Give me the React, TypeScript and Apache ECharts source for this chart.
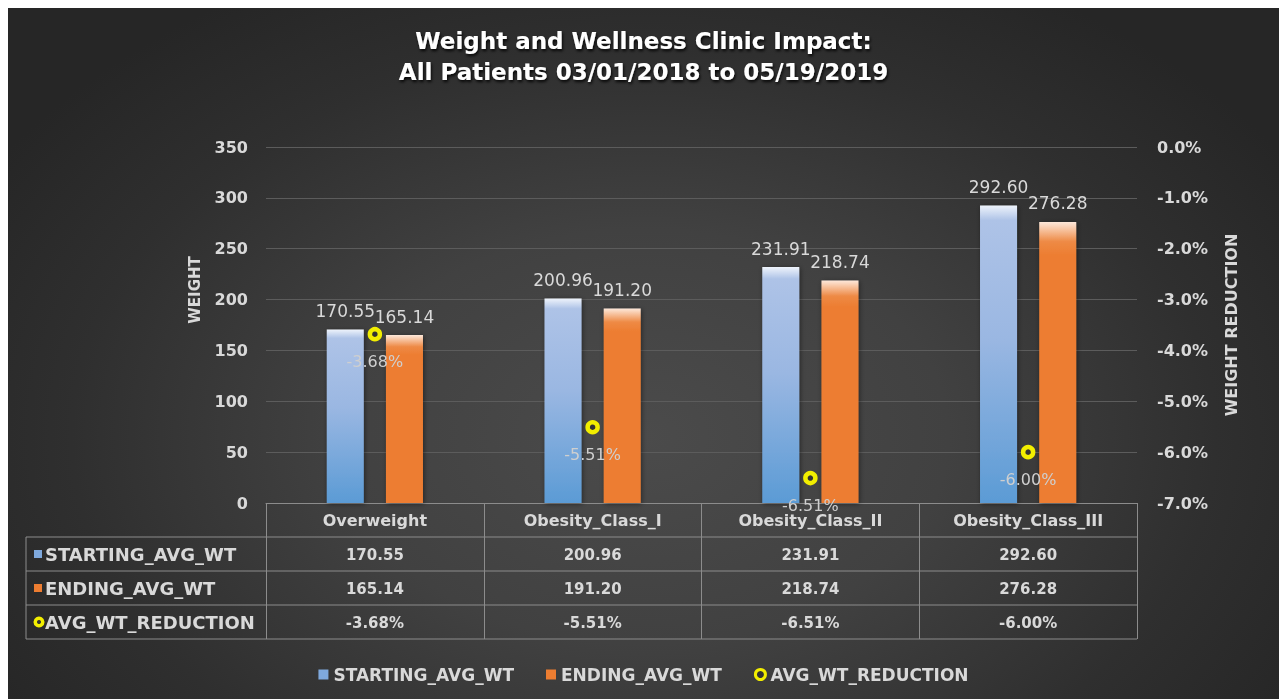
import React, { useEffect, useRef } from "react";
import * as echarts from "echarts";

const categories = ["Overweight", "Obesity_Class_I", "Obesity_Class_II", "Obesity_Class_III"];
const startingAvgWt = [170.55, 200.96, 231.91, 292.6];
const endingAvgWt = [165.14, 191.2, 218.74, 276.28];
const avgWtReduction = [-3.68, -5.51, -6.51, -6.0];
const seriesNames = ["STARTING_AVG_WT", "ENDING_AVG_WT", "AVG_WT_REDUCTION"];
const weightTicks = { min: 0, max: 350, interval: 50 };
const reductionTicks = { min: -7, max: 0, interval: 1 };
const titleLines = ["Weight and Wellness Clinic Impact:", "All Patients 03/01/2018 to 05/19/2019"];

const FONT = "DejaVu Sans";
const TXT = "#d9d9d9";
const BORDER = "#8c8c8c";
const YELLOW = "#f2ee00";

export default function App() {
  const ref = useRef<HTMLDivElement>(null);
  useEffect(() => {
    if (!ref.current) return;
    const chart = echarts.init(ref.current, null, { renderer: "svg" });
    const W = 1271;
    const H = 691;
    const gridLeft = 258;
    const gridRight = 142;
    const gridTop = 139;
    const gridBottom = 196;
    const axisY = H - gridBottom; // 495
    const rowH = 34;
    const tableLeft = 18;
    const tableRight = W - gridRight;

    const blueGrad = new echarts.graphic.LinearGradient(0, 0, 0, 1, [
      { offset: 0, color: "#eef3fb" },
      { offset: 0.05, color: "#aec3e7" },
      { offset: 0.45, color: "#9ab7e2" },
      { offset: 1, color: "#5b9bd5" },
    ]);
    const orangeGrad = new echarts.graphic.LinearGradient(0, 0, 0, 1, [
      { offset: 0, color: "#fde8da" },
      { offset: 0.07, color: "#ee8a45" },
      { offset: 0.12, color: "#ed7d31" },
      { offset: 1, color: "#ed7d31" },
    ]);

    const valueRows = [
      startingAvgWt.map((v) => v.toFixed(2)),
      endingAvgWt.map((v) => v.toFixed(2)),
      avgWtReduction.map((v) => v.toFixed(2) + "%"),
    ];

    const rowAxes = valueRows.map((row, k) => ({
      type: "category",
      data: categories,
      gridIndex: 0,
      position: "bottom",
      offset: rowH * (k + 1),
      axisLine: { show: false },
      axisTick: { show: false },
      axisLabel: {
        interval: 0,
        margin: 10,
        color: TXT,
        fontFamily: FONT,
        fontWeight: "bold",
        fontSize: 15,
        formatter: (_v: string, i: number) => row[i],
      },
    }));

    const graphics: any[] = [];
    for (let k = 1; k <= 4; k++) {
      graphics.push({
        type: "line",
        shape: { x1: tableLeft, y1: axisY + rowH * k, x2: tableRight, y2: axisY + rowH * k },
        style: { stroke: BORDER, lineWidth: 1 },
      });
    }
    graphics.push({
      type: "line",
      shape: { x1: tableLeft, y1: axisY + rowH, x2: tableLeft, y2: axisY + rowH * 4 },
      style: { stroke: BORDER, lineWidth: 1 },
    });
    const keyFills = ["#7fa9dd", "#ed7d31"];
    seriesNames.forEach((name, k) => {
      const cy = axisY + rowH * (k + 1) + rowH / 2;
      if (k < 2) {
        graphics.push({
          type: "rect",
          shape: { x: 26, y: cy - 4, width: 8, height: 8 },
          style: { fill: keyFills[k] },
        });
      } else {
        graphics.push({
          type: "circle",
          shape: { cx: 31, cy, r: 3.8 },
          style: { fill: "#333", stroke: YELLOW, lineWidth: 3.5 },
        });
      }
      graphics.push({
        type: "text",
        x: 37,
        y: cy,
        style: {
          text: name,
          fill: TXT,
          font: `bold 18px "${FONT}"`,
          verticalAlign: "middle",
          align: "left",
        },
      });
    });
    graphics.push({
      type: "text",
      x: 187,
      y: 282,
      rotation: Math.PI / 2,
      style: {
        text: "WEIGHT",
        fill: TXT,
        font: `bold 15px "${FONT}"`,
        align: "center",
        verticalAlign: "middle",
      },
    });

    const legendText = { color: TXT, fontFamily: FONT, fontWeight: "bold" as const, fontSize: 17 };

    chart.setOption({
      animation: false,
      backgroundColor: "transparent",
      title: {
        text: titleLines.join("\n"),
        left: "center",
        top: 12,
        textStyle: {
          color: "#ffffff",
          fontFamily: FONT,
          fontWeight: "bold",
          fontSize: 23,
          lineHeight: 31,
          textShadowColor: "rgba(0,0,0,0.9)",
          textShadowBlur: 3,
          textShadowOffsetX: 1,
          textShadowOffsetY: 2,
        },
      },
      legend: {
        bottom: 11,
        left: "center",
        itemWidth: 10,
        itemHeight: 10,
        itemGap: 32,
        textStyle: legendText,
        data: [
          { name: seriesNames[0], icon: "rect", itemStyle: { color: "#7fa9dd" }, textStyle: legendText },
          { name: seriesNames[1], icon: "rect", itemStyle: { color: "#ed7d31" }, textStyle: legendText },
          {
            name: seriesNames[2],
            icon: "circle",
            itemStyle: { color: "#333", borderColor: YELLOW, borderWidth: 3 },
            textStyle: legendText,
          },
        ],
      },
      grid: { left: gridLeft, right: gridRight, top: gridTop, bottom: gridBottom, containLabel: false },
      xAxis: [
        {
          type: "category",
          data: categories,
          gridIndex: 0,
          position: "bottom",
          axisLine: { show: true, lineStyle: { color: BORDER, width: 1 } },
          axisTick: {
            show: true,
            interval: 0,
            length: rowH * 4,
            inside: false,
            lineStyle: { color: BORDER, width: 1 },
          },
          axisLabel: {
            interval: 0,
            margin: 9,
            color: TXT,
            fontFamily: FONT,
            fontWeight: "bold",
            fontSize: 16,
          },
        },
        ...rowAxes,
      ],
      yAxis: [
        {
          type: "value",
          min: weightTicks.min,
          max: weightTicks.max,
          interval: weightTicks.interval,
          axisLine: { show: false },
          axisTick: { show: false },
          splitLine: { lineStyle: { color: "#5c5c5c", width: 1 } },
          axisLabel: { margin: 18, color: TXT, fontFamily: FONT, fontWeight: "bold", fontSize: 16 },
        },
        {
          type: "value",
          position: "right",
          min: reductionTicks.min,
          max: reductionTicks.max,
          interval: reductionTicks.interval,
          name: "WEIGHT REDUCTION",
          nameLocation: "middle",
          nameRotate: 90,
          nameGap: 86,
          nameTextStyle: { color: TXT, fontFamily: FONT, fontWeight: "bold", fontSize: 16 },
          axisLine: { show: false },
          axisTick: { show: false },
          splitLine: { show: false },
          axisLabel: {
            margin: 20,
            color: TXT,
            fontFamily: FONT,
            fontWeight: "bold",
            fontSize: 16,
            formatter: (v: number) => v.toFixed(1) + "%",
          },
        },
      ],
      series: [
        {
          name: seriesNames[0],
          type: "bar",
          data: startingAvgWt,
          barWidth: 37,
          barGap: "60%",
          itemStyle: { color: blueGrad, shadowColor: "rgba(0,0,0,0.45)", shadowBlur: 5, shadowOffsetX: 1, shadowOffsetY: 1 },
          label: {
            show: true,
            position: "top",
            distance: 10,
            color: TXT,
            fontFamily: FONT,
            fontSize: 17,
            formatter: (p: any) => p.value.toFixed(2),
          },
        },
        {
          name: seriesNames[1],
          type: "bar",
          data: endingAvgWt,
          barWidth: 37,
          barGap: "60%",
          itemStyle: { color: orangeGrad, shadowColor: "rgba(0,0,0,0.45)", shadowBlur: 5, shadowOffsetX: 1, shadowOffsetY: 1 },
          label: {
            show: true,
            position: "top",
            distance: 10,
            color: TXT,
            fontFamily: FONT,
            fontSize: 17,
            formatter: (p: any) => p.value.toFixed(2),
          },
        },
        {
          name: seriesNames[2],
          type: "line",
          yAxisIndex: 1,
          data: avgWtReduction,
          symbol: "circle",
          symbolSize: 10,
          lineStyle: { width: 0, opacity: 0 },
          itemStyle: { color: "#333", borderColor: YELLOW, borderWidth: 4.5 },
          label: {
            show: true,
            position: "bottom",
            distance: 12,
            color: "#cfcfcf",
            fontFamily: FONT,
            fontSize: 16,
            formatter: (p: any) => p.value.toFixed(2) + "%",
          },
          z: 5,
        },
      ],
      graphic: graphics,
    });
    return () => chart.dispose();
  }, []);

  return (
    <div
      ref={ref}
      style={{
        position: "fixed",
        left: 8,
        top: 8,
        width: 1271,
        height: 691,
        background:
          "radial-gradient(ellipse 60% 75% at 50% 62%, #4b4b4b 0%, #414141 40%, #2f2f2f 75%, #262626 100%)",
      }}
    />
  );
}
